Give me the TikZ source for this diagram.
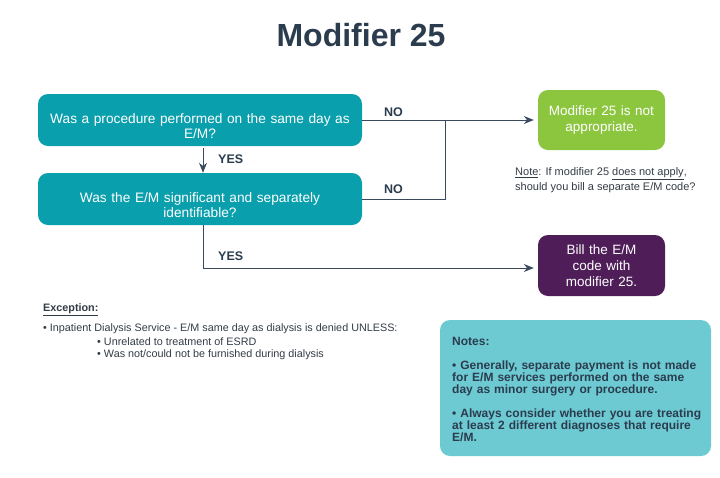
\documentclass[tikz,border=0pt]{standalone}
\usepackage{fontspec}
\setmainfont{Liberation Sans}
\usetikzlibrary{arrows.meta}
\definecolor{titlec}{HTML}{2B3C4E}
\definecolor{tealc}{HTML}{0A9FAC}
\definecolor{greenc}{HTML}{8CC63F}
\definecolor{purplec}{HTML}{4F1E59}
\definecolor{notec}{HTML}{6DCAD2}
\definecolor{linec}{HTML}{3A4A5C}
\definecolor{textc}{HTML}{333B45}
\tikzset{
  qbox/.style={fill=tealc, rounded corners=10pt, minimum width=324pt, minimum height=52pt, inner sep=0pt},
  qtext/.style={text width=316pt, align=center, text=white, font=\fontsize{13.7}{15}\selectfont, inner sep=0pt},
  rbox/.style={rounded corners=10pt, minimum width=127pt, text width=120pt, align=center, text=white, font=\fontsize{13.5}{16}\selectfont, inner sep=0pt},
  conn/.style={draw=linec, line width=0.9pt},
  arr/.style={conn, -{Stealth[length=10pt,width=8pt]}},
  lbl/.style={text=titlec, font=\fontsize{12.5}{14}\selectfont\bfseries, inner sep=0pt},
  small/.style={text=textc, font=\fontsize{10.8}{13}\selectfont, inner sep=0pt, align=left}
}
\begin{document}
\begin{tikzpicture}[x=1pt,y=-1pt]
\useasboundingbox (0,0) rectangle (720,477);
\node[text=titlec, font=\fontsize{32}{36}\selectfont\bfseries] (title) at (361,35) {Modifier 25};
\node[qbox] (b1) at (200,120) {};
\node[qtext] (t1) at ([yshift=-6pt]b1.center) {Was a procedure performed on the same day as\\E/M?};
\node[qbox] (b2) at (200,199) {};
\node[qtext] (t2) at ([yshift=-6pt]b2.center) {Was the E/M significant and separately\\identifiable?};
\node[rbox, fill=greenc, minimum height=60pt] (g) at (601.5,120) {Modifier 25 is not\\appropriate.};
\node[rbox, fill=purplec, minimum height=61pt] (p) at (601.5,265.5) {Bill the E/M\\code with\\modifier 25.};
\coordinate (j) at (445,120);
\draw[conn] (b1.east) -- (j);
\draw[conn] (b2.east) -| (j);
\draw[arr] (j) -- ([xshift=-4pt]g.west);
\draw[arr] ([xshift=3pt,yshift=-2pt]b1.south) -- ([xshift=3pt]b2.north);
\draw[arr] ([xshift=3pt]b2.south) |- ([xshift=-4pt,yshift=-2.5pt]p.west);
\node[lbl, anchor=west] (no1) at (384,112) {NO};
\node[lbl, anchor=west] (no2) at (384,189) {NO};
\node[lbl, anchor=west] (yes1) at (218,159) {YES};
\node[lbl, anchor=west] (yes2) at (218,256) {YES};
\node[small, anchor=north west, font=\fontsize{11}{15}\selectfont] (note) at (515,167.5) {\underline{Note}: If modifier 25 \underline{does not apply},\\should you bill a separate E/M code?};
\node[small, anchor=west, font=\fontsize{10.8}{13}\selectfont\bfseries] (exc) at (43,310) {\underline{Exception:}};
\node[small, anchor=west] (e1) at (43,329) {• Inpatient Dialysis Service - E/M same day as dialysis is denied UNLESS:};
\node[small, anchor=west] (e2) at (97,342) {• Unrelated to treatment of ESRD};
\node[small, anchor=west] (e3) at (97,355) {• Was not/could not be furnished during dialysis};
\node[fill=notec, rounded corners=10pt, minimum width=271pt, minimum height=136pt, inner sep=0pt] (nb) at (575.5,388) {};
\node[anchor=north west, text=titlec, font=\fontsize{12}{12}\selectfont\bfseries, text width=262pt, align=left, inner sep=0pt] (nt) at (452,337) {Notes:\\[12pt]• Generally, separate payment is not made\\for E/M services performed on the same\\day as minor surgery or procedure.\\[12pt]• Always consider whether you are treating\\at least 2 different diagnoses that require\\E/M.};
\end{tikzpicture}
\end{document}
